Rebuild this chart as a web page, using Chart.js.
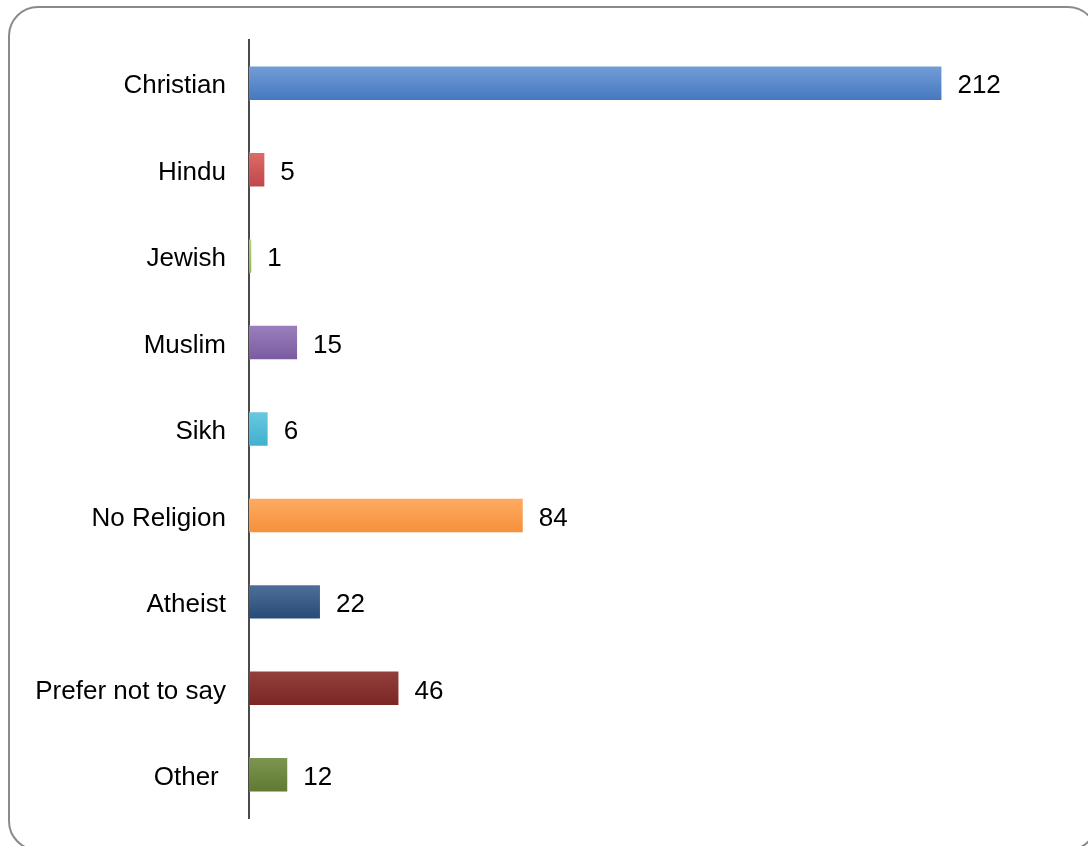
<!DOCTYPE html>
<html>
<head>
<meta charset="utf-8">
<script src="https://cdn.jsdelivr.net/npm/chart.js@4/dist/chart.umd.min.js"></script>
<style>
    html, body { margin: 0; padding: 0; background: #fff; overflow: hidden; }
    #wrap { position: relative; width: 1088px; height: 846px; }
    #frame {
        position: absolute; left: 8px; top: 6px; width: 1090px; height: 845px;
        border: 2px solid #8a8a8a; border-radius: 30px; box-sizing: border-box;
    }
    #chart { position: absolute; left: 0; top: 0; }
</style>
</head>
<body>
<div id="wrap">
    <div id="frame"></div>
    <canvas id="chart" width="1088" height="846"></canvas>
</div>
<script>
// Data
const categories = ['Christian', 'Hindu', 'Jewish', 'Muslim', 'Sikh', 'No Religion', 'Atheist', 'Prefer not to say', 'Other '];
const counts = [212, 5, 1, 15, 6, 84, 22, 46, 12];

// top / bottom colours of each bar's gradient
const topColors = ['#729ed8', '#dd6b68', '#b5d27a', '#9a7fbd', '#6ac8e0', '#fdab62', '#4f6f98', '#93403d', '#7d9550'];
const bottomColors = ['#4677be', '#c0464a', '#93b555', '#7b5ba0', '#3fb0cf', '#f6903a', '#264b78', '#7a2624', '#5f7a32'];

function barFill(ctx) {
    const chart = ctx.chart;
    const i = ctx.dataIndex;
    const y = chart.scales && chart.scales.y;
    if (!chart.chartArea || !y || i === undefined) return bottomColors[i] || '#888';
    const c = y.getPixelForValue(i);
    const g = chart.ctx.createLinearGradient(0, c - 17, 0, c + 17);
    g.addColorStop(0, topColors[i]);
    g.addColorStop(1, bottomColors[i]);
    return g;
}

// value labels to the right of bars
const valueLabels = {
    id: 'valueLabels',
    afterDatasetsDraw(chart) {
        const ctx = chart.ctx;
        const meta = chart.getDatasetMeta(0);
        ctx.save();
        ctx.font = '26px "Liberation Sans", Arial, sans-serif';
        ctx.fillStyle = '#000';
        ctx.textBaseline = 'middle';
        ctx.textAlign = 'left';
        meta.data.forEach((bar, i) => {
            ctx.fillText(String(counts[i]), bar.x + 15, bar.y + 3);
        });
        ctx.restore();
    }
};

new Chart(document.getElementById('chart'), {
    type: 'bar',
    data: {
        labels: categories,
        datasets: [{
            data: counts,
            backgroundColor: barFill,
            borderColor: 'rgba(255,255,255,0.25)',
            borderWidth: 1,
            borderSkipped: 'start',
            categoryPercentage: 1,
            barPercentage: 0.41
        }]
    },
    options: {
        indexAxis: 'y',
        responsive: false,
        animation: false,
        layout: { padding: { top: 40, bottom: 28, left: 0, right: 54 } },
        plugins: {
            legend: { display: false },
            tooltip: { enabled: false }
        },
        scales: {
            x: {
                min: 0,
                max: 240,
                display: false,
                grid: { display: false }
            },
            y: {
                grid: { display: false, drawTicks: false },
                border: { display: true, color: '#4a4a4a', width: 2 },
                ticks: {
                    color: '#000',
                    padding: 23,
                    labelOffset: 3,
                    font: { family: '"Liberation Sans", Arial, sans-serif', size: 26 }
                },
                afterFit(scale) {
                    scale.width = 249;
                    scale.paddingTop = 0;
                    scale.paddingBottom = 0;
                }
            }
        }
    },
    plugins: [valueLabels]
});
</script>
</body>
</html>
